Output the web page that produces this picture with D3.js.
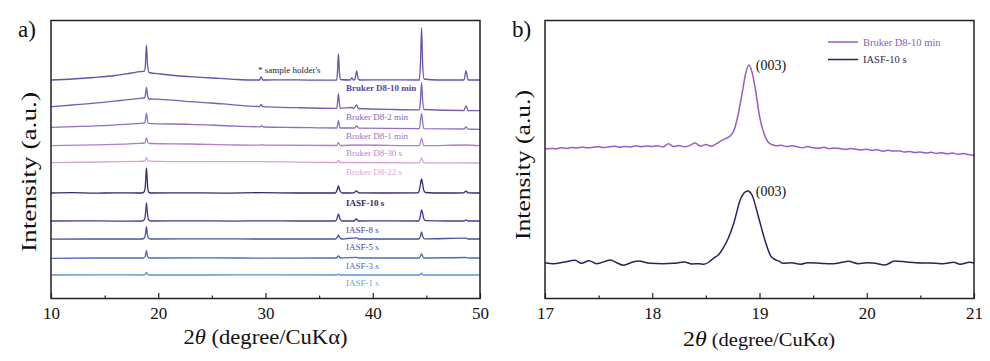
<!DOCTYPE html>
<html>
<head>
<meta charset="utf-8">
<script src="https://cdn.jsdelivr.net/npm/d3@7/dist/d3.min.js"></script>
<style>
  body { margin: 0; background: #fff; }
  svg { display: block; font-family: "Liberation Serif", "Times New Roman", serif; }
</style>
</head>
<body>
<div id="chart"></div>
<script>
// ---- panel a) data: [2theta, intensity (a.u., stacked)] ----
const d8_10min = [[10,218],[12,219],[14,220.5],[16,222.5],[17.5,225],[18.3,226.3],[18.7,226.8],[18.8,233],[18.9,253],[19.0,233],[19.15,225.5],[20.2,224],[21.5,222.5],[23,221.3],[25,220],[27,218.7],[28.6,218],[29.45,218],[29.6,221],[29.75,218],[32,218.2],[34,217.9],[36.65,218],[36.72,228],[36.8,244],[36.88,228],[36.98,218.5],[37.9,218],[38.05,220],[38.2,218],[38.35,219],[38.5,227],[38.65,219],[38.8,218],[41,218.1],[44.35,218],[44.45,235],[44.55,270],[44.65,235],[44.78,219],[46,218],[48.5,218],[48.7,227],[48.9,218],[50,218]];
const d8_2min = [[10,191.3],[12,193],[14.6,195.3],[16.5,197.5],[18.3,199.7],[18.7,200],[18.8,203],[18.9,210.7],[19.0,203],[19.15,199],[20.2,198.7],[23,196.3],[25,195],[27,193.2],[29.45,191.5],[29.6,193.5],[29.75,191.3],[33,190.3],[36.65,189.7],[36.72,196],[36.8,204],[36.88,196],[36.98,189.7],[38.05,190.5],[38.2,189.5],[38.5,193],[38.65,189.5],[42,188.5],[44.35,188.2],[44.45,198],[44.55,215],[44.65,198],[44.78,188.5],[48.5,187.5],[48.7,192],[48.9,187.5],[50,187.3]];
const d8_1min = [[10,170.7],[14.6,172.3],[18.3,174.7],[18.75,175],[18.9,184.7],[19.05,175],[19.3,174.3],[23,173.7],[27,172],[29.5,171.2],[29.65,172.3],[29.8,171],[33,170.5],[36.65,170],[36.8,177.3],[36.95,170],[38.3,170],[38.5,172],[38.7,169.8],[44.35,169.3],[44.55,184.7],[44.75,169.3],[48.5,169],[48.7,171],[48.9,168.8],[50,168.7]];
const d8_30s = [[10,152.3],[14,153.2],[18.3,154.7],[18.75,155],[18.9,160.3],[19.05,155],[19.3,154.5],[23,154],[27,153],[29.5,152.8],[29.65,153.7],[29.8,152.8],[36.65,152.5],[36.8,155.7],[36.95,152.5],[38.5,153],[44.35,152.3],[44.55,159.7],[44.75,152.3],[48.7,153],[50,152.3]];
const d8_22s = [[10,135.3],[15,136],[18.3,136.7],[18.75,136.8],[18.9,140.7],[19.05,136.8],[23,136.3],[29.65,136.3],[36.65,135.5],[36.8,137.7],[36.95,135.5],[44.35,135.2],[44.55,140],[44.75,135.2],[50,135]];
const iasf_10s = [[10,105],[12,105.3],[14,104.8],[16,105.2],[18.5,105],[18.7,106.5],[18.78,110],[18.84,120],[18.9,130],[18.96,121],[19.02,110],[19.1,106],[19.3,105],[22,105.2],[26,104.9],[29.6,105.3],[33,105],[36.5,105],[36.62,106.5],[36.72,109.5],[36.8,112],[36.88,109.5],[36.98,106.5],[37.15,105],[38.25,105.2],[38.45,107.2],[38.7,105.2],[41,105],[44.2,105.2],[44.35,108],[44.45,114],[44.55,119],[44.65,114],[44.75,108],[44.9,105.5],[46.5,105],[48.45,105.2],[48.7,106.8],[48.9,105.2],[50,105]];
const iasf_8s = [[10,77],[13,77.2],[16,76.9],[18.5,77],[18.7,78.3],[18.78,81.5],[18.84,88],[18.9,95],[18.96,89],[19.02,82],[19.1,78.2],[19.3,77],[23,77.2],[27,76.9],[29.6,77.2],[33,77],[36.5,77],[36.62,78.2],[36.72,81.5],[36.8,84],[36.88,81.5],[36.98,78.3],[37.15,77],[38.25,77],[38.45,79],[38.7,77],[41,77.1],[44.25,77],[44.4,80],[44.5,86],[44.56,88],[44.65,84.5],[44.75,79.5],[44.9,77.3],[47,77],[48.5,77],[48.7,78],[48.9,77],[50,77]];
const iasf_5s = [[10,58.8],[14,59],[18.5,59],[18.7,60],[18.8,63.5],[18.9,71.3],[18.98,64],[19.08,60],[19.3,59],[25,59.1],[29.6,59],[36.55,59],[36.7,60.8],[36.8,63],[36.9,60.8],[37.1,59],[38.5,60.2],[38.7,59],[44.3,59],[44.45,62],[44.55,66],[44.65,62],[44.8,59.2],[48.7,59.8],[48.9,59],[50,59]];
const iasf_3s = [[10,39.7],[14,40],[18.6,40],[18.78,41.5],[18.9,47.3],[19.0,41.8],[19.15,40],[25,40.1],[30,39.9],[36.6,40],[36.8,42],[37.0,40],[38.5,40.6],[38.7,40],[44.35,40],[44.55,44],[44.75,40],[48.7,40.5],[48.9,40],[50,40]];
const iasf_1s = [[10,23],[15,23.1],[18.7,23],[18.9,25.3],[19.1,23],[25,23],[30,23.1],[36.65,23],[36.8,23.8],[36.95,23],[44.4,23],[44.55,24.8],[44.7,23],[50,23]];

const leftSeries = [d8_10min, d8_2min, d8_1min, d8_30s, d8_22s, iasf_10s, iasf_8s, iasf_5s, iasf_3s, iasf_1s];
const leftNames = ["Bruker D8-10 min", "Bruker D8-2 min", "Bruker D8-1 min", "Bruker D8-30 s", "Bruker D8-22 s",
                   "IASF-10 s", "IASF-8 s", "IASF-5 s", "IASF-3 s", "IASF-1 s"];
const leftTicks = [10, 20, 30, 40, 50];
const leftMinor = [15, 25, 35, 45];

// ---- panel b) data: zoom on (003) ----
const b_d8_10min = [[17.0,149],[17.05,149.6],[17.1,149.2],[17.15,150.3],[17.2,149.6],[17.25,150.5],[17.3,150],[17.35,150.9],[17.4,150.2],[17.45,150.7],[17.5,151.2],[17.55,150.4],[17.6,151.3],[17.65,151.7],[17.7,150.8],[17.75,151.6],[17.8,151.1],[17.85,152.3],[17.9,151.3],[17.95,152],[18.0,151.6],[18.05,152.3],[18.1,151],[18.15,154.2],[18.2,151.5],[18.25,152.6],[18.3,151.2],[18.35,152.5],[18.4,155],[18.45,151.8],[18.5,153.5],[18.55,151.8],[18.6,154.3],[18.64,157.2],[18.68,159.2],[18.72,161.5],[18.76,167],[18.8,183],[18.84,206],[18.87,224],[18.9,233],[18.93,226],[18.96,210],[19.0,182],[19.04,165],[19.08,156],[19.12,153.3],[19.16,152.2],[19.2,152.8],[19.25,151.4],[19.3,152.2],[19.35,151.3],[19.4,150.3],[19.45,151.5],[19.5,150.2],[19.55,149.8],[19.6,150.8],[19.65,149.3],[19.7,150],[19.75,149.4],[19.8,148.6],[19.85,149.5],[19.9,148.7],[19.95,148],[20.0,148.8],[20.05,147.6],[20.1,148.2],[20.15,146.8],[20.2,147.7],[20.25,146.9],[20.3,147.3],[20.35,145.9],[20.4,146.6],[20.45,145.4],[20.5,146],[20.55,145],[20.6,145.7],[20.65,144.6],[20.7,145.2],[20.75,144.2],[20.8,144.9],[20.85,143.8],[20.9,144.4],[20.95,143.4],[21.0,142.5]];
const b_iasf_10s = [[17.0,35.3],[17.08,34.3],[17.17,35.7],[17.28,37.7],[17.34,34.7],[17.41,37.3],[17.48,34.3],[17.61,38],[17.67,35.3],[17.73,32.7],[17.82,36],[17.87,37],[17.98,34.7],[18.1,34.3],[18.2,34.7],[18.3,36],[18.37,34],[18.44,34.3],[18.48,33.7],[18.53,36],[18.57,39.7],[18.62,43.5],[18.66,49.7],[18.71,60],[18.76,74.7],[18.82,98],[18.86,105.5],[18.89,107],[18.93,103],[18.99,81.3],[19.05,58],[19.11,41.3],[19.19,36.3],[19.22,34.7],[19.3,35.2],[19.38,33.7],[19.45,35.3],[19.53,35],[19.6,34.5],[19.69,34.3],[19.76,35.4],[19.83,36.7],[19.92,34.3],[20.0,35.2],[20.06,35],[20.17,33],[20.26,37],[20.37,36],[20.46,35.3],[20.56,35],[20.64,34.8],[20.71,34.3],[20.81,35.7],[20.87,33.7],[20.96,35.7],[21.0,35]];
const rightSeries = [b_d8_10min, b_iasf_10s];
const rightNames = ["Bruker D8-10 min", "IASF-10 s"];
const rightTicks = [17, 18, 19, 20, 21];
const rightMinor = [17.5, 18.5, 19.5, 20.5];

// ---- styles / layout ----
const leftColors = ["#6a4fa8", "#7a5cb4", "#8f6fc2", "#b07ec9", "#d7a0da",
                    "#3a2868", "#4a3a95", "#4751a6", "#4d6bb9", "#5b95d6"];
const leftLabelColors = ["#5a43a0", "#8068b8", "#9478c4", "#b088cc", "#dcaadd",
                         "#35255f", "#4a3a95", "#4751a6", "#4d6bb9", "#6a9fdc"];
const leftLabelBold = [true, false, false, false, false, true, false, false, false, false];
const labelLevel = [207, 178, 159, 142, 123, 92, 65, 48, 29, 12];
const rightColors = ["#9a5ec2", "#2f1f5e"];

const width = 990, height = 361;
const plotTop = 20.5, plotBottom = 298.5;

const svg = d3.select("#chart").append("svg")
  .attr("width", width)
  .attr("height", height);

svg.append("rect").attr("width", width).attr("height", height).attr("fill", "#fff");

const y = d3.scaleLinear().domain([0, 278]).range([298, 20]);

function panel(x0, x1, domain, major, minor, id) {
  const x = d3.scaleLinear().domain(domain).range([x0, x1]);
  const g = svg.append("g");

  svg.append("clipPath").attr("id", id)
    .append("rect").attr("x", x0).attr("y", plotTop).attr("width", x1 - x0).attr("height", plotBottom - plotTop);

  // major ticks, inward
  const ax = g.append("g")
    .attr("transform", `translate(0,${plotBottom})`)
    .call(d3.axisBottom(x).tickValues(major).tickSize(-5.5).tickPadding(9).tickFormat(d3.format("d")));
  ax.select(".domain").remove();
  ax.selectAll("line").attr("stroke", "#222").attr("stroke-width", 1.2);
  ax.selectAll("text")
    .attr("font-family", "Liberation Serif, serif")
    .attr("font-size", 16)
    .attr("fill", "#111")
    .attr("textLength", 17)
    .attr("lengthAdjust", "spacingAndGlyphs");

  const mx = g.append("g")
    .attr("transform", `translate(0,${plotBottom})`)
    .call(d3.axisBottom(x).tickValues(minor).tickSize(-3).tickFormat(""));
  mx.select(".domain").remove();
  mx.selectAll("line").attr("stroke", "#222").attr("stroke-width", 1.2);

  return {x, g};
}

// ---------- panel a ----------
const A = panel(51, 480, [10, 50], leftTicks, leftMinor, "clipA");
const lineA = d3.line().x(d => A.x(d[0])).y(d => y(d[1])).curve(d3.curveMonotoneX);

A.g.append("g").attr("clip-path", "url(#clipA)")
  .selectAll("path").data(leftSeries)
  .join("path")
  .attr("d", lineA)
  .attr("fill", "none")
  .attr("stroke", (d, i) => leftColors[i])
  .attr("stroke-width", 1.3);

A.g.selectAll("text.lab").data(leftNames)
  .join("text")
  .attr("class", "lab")
  .attr("x", 346)
  .attr("y", (d, i) => y(labelLevel[i]))
  .attr("font-size", 9)
  .attr("font-weight", (d, i) => leftLabelBold[i] ? "bold" : "normal")
  .attr("fill", (d, i) => leftLabelColors[i])
  .text(d => d);

A.g.append("text")
  .attr("x", 258).attr("y", y(225))
  .attr("font-size", 9)
  .attr("fill", "#222")
  .text("* sample holder's");

A.g.append("rect")
  .attr("x", 51).attr("y", plotTop).attr("width", 480 - 51).attr("height", plotBottom - plotTop)
  .attr("fill", "none").attr("stroke", "#222").attr("stroke-width", 1.5);

// ---------- panel b ----------
const B = panel(545, 974, [17, 21], rightTicks, rightMinor, "clipB");
const lineB = d3.line().x(d => B.x(d[0])).y(d => y(d[1])).curve(d3.curveMonotoneX);

B.g.append("g").attr("clip-path", "url(#clipB)")
  .selectAll("path").data(rightSeries)
  .join("path")
  .attr("d", lineB)
  .attr("fill", "none")
  .attr("stroke", (d, i) => rightColors[i])
  .attr("stroke-width", 1.5);

// (003) peak labels
B.g.selectAll("text.hkl").data(rightSeries)
  .join("text")
  .attr("class", "hkl")
  .attr("x", B.x(18.9) + 7)
  .attr("y", d => y(d3.max(d, p => p[1])) + 5)
  .attr("font-size", 14)
  .attr("fill", "#111")
  .text("(003)");

// legend
const leg = B.g.append("g");
rightNames.forEach((name, i) => {
  const ly = 42 + i * 17.5;
  leg.append("line")
    .attr("x1", 828).attr("x2", 858).attr("y1", ly).attr("y2", ly)
    .attr("stroke", rightColors[i]).attr("stroke-width", 1.5);
  leg.append("text")
    .attr("x", 863).attr("y", ly + 3.5)
    .attr("font-size", 10.5)
    .attr("fill", i === 0 ? "#8a62b4" : "#2f2450")
    .text(name);
});

B.g.append("rect")
  .attr("x", 545).attr("y", plotTop).attr("width", 974 - 545).attr("height", plotBottom - plotTop)
  .attr("fill", "none").attr("stroke", "#222").attr("stroke-width", 1.5);

// ---------- titles ----------
function xTitle(cx, by, len, big, small) {
  const t = svg.append("text")
    .attr("x", cx).attr("y", by)
    .attr("text-anchor", "middle")
    .attr("fill", "#111")
    .attr("textLength", len)
    .attr("lengthAdjust", "spacingAndGlyphs");
  t.append("tspan").attr("font-size", big).text("2");
  t.append("tspan").attr("font-size", big).attr("font-style", "italic").text("θ");
  t.append("tspan").attr("font-size", small).text(" (degree/CuKα)");
}
xTitle(265.5, 344, 164, 22, 22);
xTitle(759, 346, 152, 21, 18);

function yTitle(cx, cy, len) {
  svg.append("text")
    .attr("transform", `translate(${cx},${cy}) rotate(-90)`)
    .attr("text-anchor", "middle")
    .attr("font-size", 21)
    .attr("fill", "#111")
    .attr("textLength", len)
    .attr("lengthAdjust", "spacingAndGlyphs")
    .text("Intensity (a.u.)");
}
yTitle(36, 172, 160);
yTitle(530, 165, 150);

svg.append("text").attr("x", 18).attr("y", 37).attr("font-size", 23).attr("fill", "#111").text("a)");
svg.append("text").attr("x", 512).attr("y", 37).attr("font-size", 23).attr("fill", "#111").text("b)");
</script>
</body>
</html>
